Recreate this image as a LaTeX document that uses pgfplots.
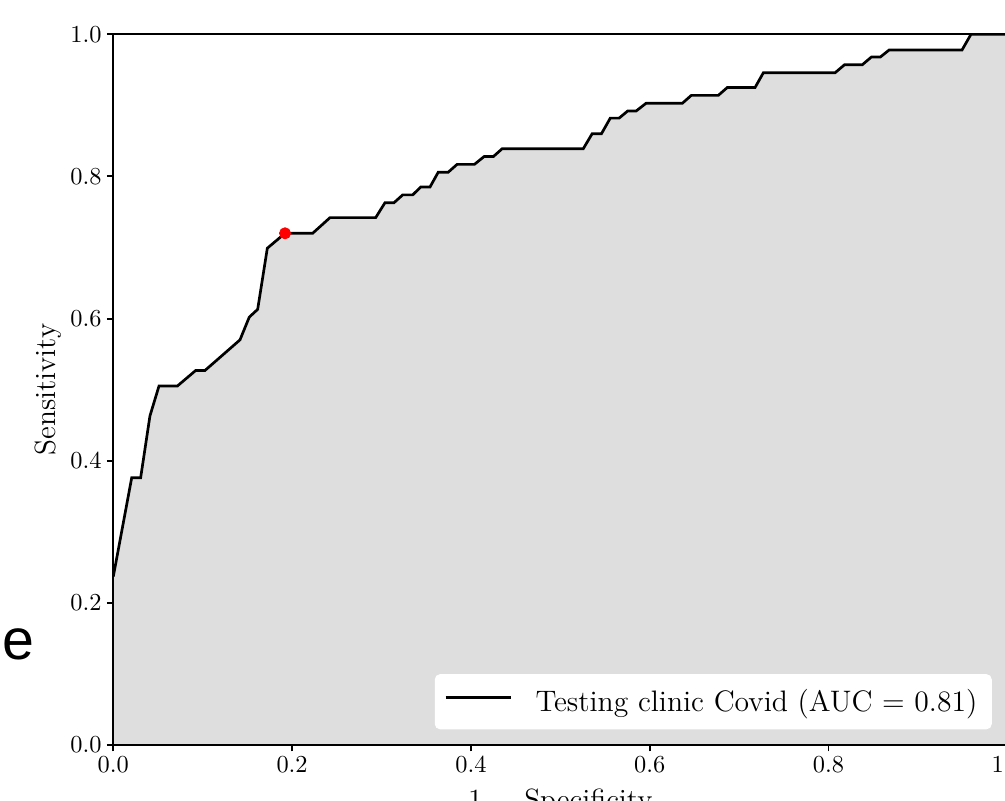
\documentclass[border=0pt]{standalone}
\usepackage{fontspec}
\usepackage{pgfplots}
\usepackage{pgfplotstable}
\pgfplotsset{compat=1.18}
\newfontfamily\arialfont{Liberation Sans}
\definecolor{fillgray}{RGB}{222,222,222}
\pgfplotstableread{
x y
0 0.237
0.0206 0.376
0.0306 0.376
0.041 0.463
0.0511 0.505
0.0716 0.505
0.0922 0.527
0.1026 0.527
0.1417 0.570
0.1521 0.602
0.1615 0.613
0.1723 0.699
0.1921 0.720
0.223 0.720
0.2424 0.742
0.2935 0.742
0.3039 0.763
0.314 0.763
0.3237 0.774
0.3349 0.774
0.3438 0.785
0.3542 0.785
0.3635 0.806
0.3747 0.806
0.3846 0.817
0.404 0.817
0.4148 0.828
0.4252 0.828
0.435 0.839
0.5257 0.839
0.5356 0.860
0.546 0.860
0.5559 0.882
0.5658 0.882
0.5753 0.892
0.5848 0.892
0.596 0.903
0.6366 0.903
0.6465 0.914
0.6767 0.914
0.6867 0.925
0.7178 0.925
0.7272 0.946
0.8075 0.946
0.8178 0.957
0.8377 0.957
0.848 0.968
0.858 0.968
0.8679 0.978
0.9494 0.978
0.9594 1.0
1.0 1.0
}\roc
\begin{document}
\begin{tikzpicture}
\begin{axis}[
  at={(0,0)}, anchor=south west,
  scale only axis,
  width=366.54pt, height=291.39pt,
  xmin=0, xmax=1, ymin=0, ymax=1,
  xtick={0,0.2,...,1.0}, ytick={0,0.2,...,1.0},
  xtick pos=bottom, ytick pos=left,
  tick align=outside,
  major tick length=2.6pt,
  every tick/.style={black, line width=0.8pt},
  axis line style={black, line width=0.8pt},
  axis on top=true,
  xticklabel style={/pgf/number format/.cd, fixed, fixed zerofill, precision=1},
  yticklabel style={/pgf/number format/.cd, fixed, fixed zerofill, precision=1},
  tick label style={font=\fontsize{10}{12}\selectfont, inner sep=2pt},
  label style={font=\fontsize{12}{14}\selectfont},
  xlabel={1 $-$ Specificity},
  ylabel={Sensitivity},
  xlabel style={at={(axis description cs:0.5,-0.049)}, anchor=north},
  ylabel style={at={(axis description cs:-0.073,0.5)}, anchor=center},
  legend style={
    at={(rel axis cs:0.9826,0.0221)}, anchor=south east,
    font=\fontsize{12.15}{14}\selectfont,
    draw=white, fill=white, rounded corners=2pt,
    inner xsep=3.7pt, inner ysep=5.8pt,
    nodes={inner sep=0pt, yshift=-1.7pt},
    column sep=9.3pt,
  },
  legend cell align=left,
  legend image code/.code={\draw[#1] (0pt,0pt) -- (27pt,0pt);},
]
\addplot[fill=fillgray, draw=none, forget plot] table[x=x, y=y] {\roc} \closedcycle;
\addplot[black, line width=1.1pt] table[x=x, y=y] {\roc};
\addlegendentry{Testing clinic Covid (AUC = 0.81)\hspace*{2.0pt}}
\addplot[only marks, mark=*, mark size=2.25pt, red, forget plot] coordinates {(0.1921,0.720)};
\end{axis}
\node[anchor=base west, inner sep=0pt, font=\fontsize{23.5}{28}\arialfont] at (-45.5pt,34.85pt) {e};
\pgfresetboundingbox
\path[use as bounding box] (-46.45pt,-22.96pt) rectangle (365.6pt,305.45pt);
\end{tikzpicture}
\end{document}
